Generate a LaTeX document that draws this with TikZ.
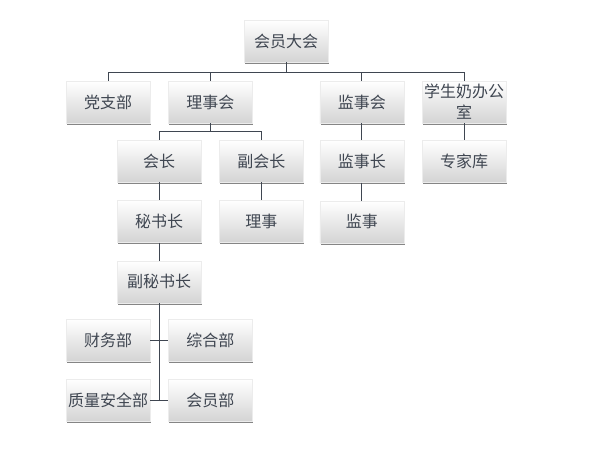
\documentclass[tikz,border=0pt]{standalone}
\usepackage{fontspec}
\newfontfamily\cjk{Noto Sans CJK SC}
\usetikzlibrary{positioning, calc, shadows}
\definecolor{inkgray}{HTML}{3F4651}
\tikzset{
    box/.style={draw=gray!15, thin, top color=white, middle color=white!97!black, bottom color=black!17,
        text=inkgray, font=\cjk\fontsize{16}{21}\selectfont, align=center, text width=80pt,
        inner sep=2pt, minimum height=42pt,
        drop shadow={shadow xshift=0.8pt, shadow yshift=-1.8pt, fill=black!80, opacity=0.6}},
    link/.style={draw=inkgray, line width=0.8pt}
}

\begin{document}
\begin{tikzpicture}[x=1pt, y=-1pt]
        \useasboundingbox (0,0) rectangle (589,450);
        \node [box] (assembly) at (286,41) {会员大会};
        \node [box] (party) at (108,102) {党支部};
        \node [box, right=18pt of party] (council) {理事会};
        \node [box, right=67pt of council] (supervisory) {监事会};
        \node [box, right=18pt of supervisory] (office) {学生奶办公\\室};
        \node [box] (president) at (159,161) {会长};
        \node [box, right=18pt of president] (vicepres) {副会长};
        \node [box, below=17pt of supervisory] (chiefsup) {监事长};
        \node [box, below=17pt of office] (experts) {专家库};
        \node [box, below=18pt of president] (secgen) {秘书长};
        \node [box, below=18pt of vicepres] (director) {理事};
        \node [box, below=18pt of chiefsup] (supervisor) {监事};
        \node [box, below=18pt of secgen] (deputy) {副秘书长};
        \node [box] (finance) at (108,340) {财务部};
        \node [box, right=18pt of finance] (general) {综合部};
        \node [box, below=18pt of finance] (quality) {质量安全部};
        \node [box, below=18pt of general] (members) {会员部};
        % top level
        \coordinate (split) at ($(assembly.south)+(0,10)$);
        \draw [link] (assembly.south) -- (split);
        \draw [link] (party.north) |- (split -| office.north) -- (office.north);
        \draw [link] (council.north) -- (council.north |- split);
        \draw [link] (supervisory.north) -- (supervisory.north |- split);
        % council branch
        \coordinate (csplit) at ($(council.south)+(0,8)$);
        \draw [link] (council.south) -- (csplit);
        \draw [link] (president.north) |- (csplit) -| (vicepres.north);
        \draw [link] (president) -- (secgen);
        \draw [link] (secgen) -- (deputy);
        \draw [link] (vicepres) -- (director);
        \draw [link] (supervisory) -- (chiefsup);
        \draw [link] (chiefsup) -- (supervisor);
        \draw [link] (office) -- (experts);
        % departments
        \draw [link] (deputy.south) -- (deputy.south |- quality.east);
        \draw [link] (finance.east) -- (general.west);
        \draw [link] (quality.east) -- (members.west);
    \end{tikzpicture}
\end{document}
